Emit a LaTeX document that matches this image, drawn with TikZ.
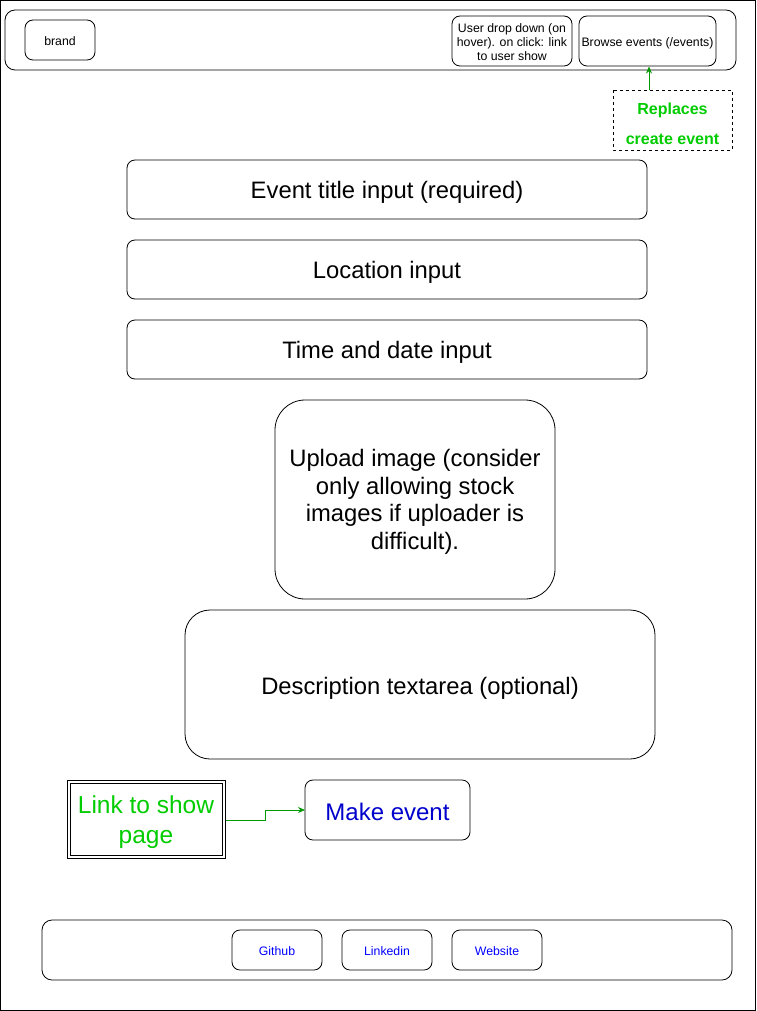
\documentclass[tikz,border=0pt]{standalone}
\usepackage{fontspec}
\setmainfont{Liberation Sans}
\usetikzlibrary{arrows.meta}
\definecolor{lgreen}{HTML}{00CC00}
\definecolor{dgreen}{HTML}{009900}
\definecolor{dblue}{HTML}{0000CC}
\tikzset{
  rbox/.style={draw=black, line width=0.8pt, rounded corners=8pt},
  sm/.style={font=\fontsize{12.3}{14}\selectfont, align=center},
  big/.style={font=\fontsize{23.8}{27.5}\selectfont, align=center},
}
\begin{document}
\begin{tikzpicture}[x=1pt,y=-1pt]
\useasboundingbox (0,0) rectangle (756,1011);
\draw[line width=1pt] (0.5,0.5) rectangle (755.5,1010.5);
% header
\draw[rbox,rounded corners=10pt] (5,10) rectangle (736,70);
\draw[rbox] (25,20) rectangle (95,60);
\node[sm] (brand) at (60,41) {brand};
\draw[rbox] (452,16) rectangle (572,66);
\node[sm] (user) at (512,42) {User drop down (on\\hover). on click: link\\to user show};
\draw[rbox] (579,16) rectangle (716,66);
\node[sm] (browse) at (647.5,43.5) {Browse events (/events)};
\coordinate (bbot) at (649,66.5);
% replaces
\draw[dashed, line width=0.6pt] (613,90) rectangle (732,150);
\node[font=\bfseries\fontsize{16}{29.5}\selectfont, text=lgreen, align=center] (repl) at (672.5,124) {Replaces\\create event};
\coordinate (rtop) at (649,90);
\draw[dgreen, line width=0.8pt, -{Stealth[length=7pt,width=6pt]}] (rtop) -- (bbot);
% inputs
\draw[rbox] (127,160) rectangle (647,219);
\node[big] (title) at (387,192.5) {Event title input (required)};
\draw[rbox] (127,240) rectangle (647,299);
\node[big] (loc) at (387,272.5) {Location input};
\draw[rbox] (127,320) rectangle (647,379);
\node[big] (time) at (387,352.5) {Time and date input};
\draw[rbox, rounded corners=30pt] (275,400) rectangle (555,599);
\node[big] (img) at (415,502) {Upload image (consider\\only allowing stock\\images if uploader is\\difficult).};
\draw[rbox, rounded corners=25pt] (185,610) rectangle (655,759);
\node[big] (desc) at (420,688.5) {Description textarea (optional)};
% link and make
\draw[line width=0.8pt] (67,780) rectangle (225,858);
\draw[line width=0.8pt] (70,783) rectangle (222,855);
\node[font=\fontsize{24.5}{30}\selectfont, text=lgreen, align=center] (link) at (146,822.5) {Link to show\\page};
\draw[rbox] (305,780) rectangle (470,840);
\node[font=\fontsize{24}{26}\selectfont, text=dblue] (make) at (387.5,812) {Make event};
\coordinate (lr) at (225.5,820);
\coordinate (ml) at (305,810);
\draw[dgreen, line width=0.8pt, -{Stealth[length=7pt,width=6pt]}] (lr) -- (265,820) -- (265,810) -- (ml);
% footer
\draw[rbox,rounded corners=10pt] (42,920) rectangle (732,980);
\draw[rbox] (232,930) rectangle (322,970);
\node[sm, text=blue] (gh) at (277,951) {Github};
\draw[rbox] (342,930) rectangle (432,970);
\node[sm, text=blue] (li) at (387,951) {Linkedin};
\draw[rbox] (452,930) rectangle (542,970);
\node[sm, text=blue] (web) at (497,951) {Website};
\end{tikzpicture}
\end{document}
